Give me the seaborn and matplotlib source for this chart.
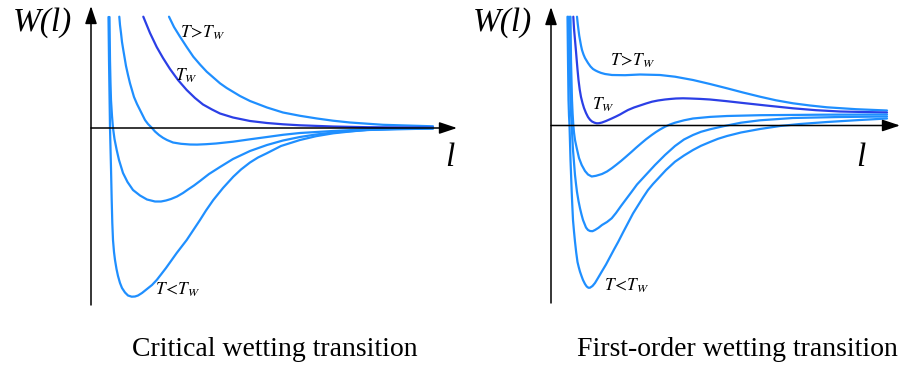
import pandas as pd
import matplotlib
matplotlib.use('Agg')
import matplotlib.pyplot as plt
import seaborn as sns

sns.set_style('white')
plt.rcParams['font.family'] = ['Liberation Serif', 'DejaVu Serif']
plt.rcParams['mathtext.fontset'] = 'stix'
plt.rcParams['text.color'] = 'black'

# values: x = distance from the W axis, y = height above the l axis (pixels)
# critical wetting (left panel)
crit_above_x = [78, 83, 89, 95.7, 102.3, 109, 115.7, 129, 135.7, 149, 159, 176, 192, 209, 226, 242, 259, 292, 342]
crit_above_y = [111.3, 101, 91.3, 81, 71.3, 63.5, 56.3, 44.7, 40, 32, 27, 20.5, 15.5, 12.2, 9.5, 7.3, 5.5, 3.2, 1.7]
crit_tw_x = [52.3, 59, 65.7, 72, 79, 87, 95.7, 104, 112, 121, 129, 142, 159, 176, 192, 209, 242, 276, 342]
crit_tw_y = [111.3, 95, 81, 70, 59, 48, 38, 30, 23.5, 18.5, 14.5, 10.5, 7, 5, 3.7, 2.7, 1.5, 0.8, 0.4]
crit_c_x = [28.3, 29, 30, 31, 32.3, 35, 37, 39, 43, 46, 49, 54, 57, 60.7, 64, 68, 72, 76, 82, 90, 99, 106, 115,
            125, 142, 159, 176, 192, 209, 242, 276, 342]
crit_c_y = [111.3, 103, 95, 86, 78, 62, 53, 44.7, 31, 24, 18, 8, 4, 0.3, -3.5, -7, -9.8, -12, -14.5, -15.8, -16.5,
            -16.6, -16.2, -15.5, -13.7, -11.3, -9, -6.8, -5, -3, -1.3, -0.3]
crit_d_x = [18.5, 19, 19.5, 20, 21, 22, 23.5, 25.7, 28, 32, 36.5, 42, 49, 56, 64, 70, 75, 80, 86, 92, 97, 103, 109,
            118, 129, 142, 159, 176, 192, 209, 225, 242, 276, 342]
crit_d_y = [111, 68, 45, 28, 12, 0, -11, -22, -32, -45, -54, -62, -67.5, -71.5, -73.5, -73.5, -72.5, -71, -68.5, -65,
            -61.5, -57.5, -53, -46, -39, -31, -23, -17, -12.5, -9, -6.5, -4.5, -2, -0.5]
crit_e_x = [17.5, 18, 19, 20, 20.7, 21.3, 22, 23, 24, 25.5, 27, 29, 31, 34, 37, 40.7, 44, 47, 51, 56, 61, 65.7, 70,
            75, 80, 85.7, 95.7, 109, 115, 122.3, 132, 142.3, 150, 159, 167, 175.7, 190, 209, 225, 242.3, 260, 275.7,
            300, 342]
crit_e_y = [111, 68, 0, -40, -72, -95, -112, -124, -132, -141, -148, -155, -160, -164.5, -167.5, -168.7, -168.5,
            -167.5, -165, -161, -157, -152, -146.5, -140, -133, -125, -112, -92, -82.5, -72, -60, -48.7, -41.5,
            -34.5, -29.5, -25.3, -18, -12, -8.2, -5.3, -3.4, -2, -1, -0.3]

# first-order wetting (right panel)
first_above_x = [26, 26.7, 27.5, 28.2, 29, 30, 31, 32.5, 34, 35.5, 37, 39.5, 42, 44.5, 47, 50, 54, 61, 74, 89, 109,
                 124, 142, 159, 176, 192, 209, 225, 242, 259, 276, 305, 336]
first_above_y = [108.8, 102, 95.5, 90, 85.5, 80, 75.5, 71, 67.5, 65, 62.5, 59, 56.5, 55, 53.8, 52.6, 51.5, 50.5,
                 50.3, 51, 50.5, 48.8, 45.5, 41.5, 37.2, 33, 28.8, 25.2, 22.2, 20, 18.2, 16.3, 15]
first_tw_x = [22.3, 23, 24, 25, 25.7, 26.5, 27.5, 28.7, 30, 31.5, 33, 35, 37, 39, 41, 43.5, 45.7, 48, 51, 55, 60.7,
              65, 69, 73, 77, 83, 89, 95, 101, 107, 114, 120, 125, 132, 139, 149, 159, 175, 192, 215, 242, 265,
              289, 336]
first_tw_y = [108.8, 97, 85.5, 74, 65.5, 56, 45.5, 36, 28.5, 22.5, 17.5, 12.5, 8.5, 5.8, 4, 2.8, 2.2, 2.3, 3, 4.5,
              7, 9, 11, 13.3, 15.5, 18, 20, 22, 23.8, 25, 26, 26.6, 27, 27.2, 27, 26.6, 26, 24.4, 22.5, 20, 17.2,
              15.3, 14, 13]
first_c_x = [19.5, 20, 20.5, 21, 21.6, 22.3, 23, 24, 25.7, 28, 30.7, 34, 37, 40.7, 45, 51, 56, 60.7, 65, 70, 75,
             80.7, 85, 90, 95, 100.7, 105, 109, 114, 119, 124, 133, 142, 159, 176, 209, 270, 336]
first_c_y = [108.8, 65.5, 45, 25.5, 12, 0.5, -7, -14.5, -22.5, -32.5, -39.5, -45.5, -49, -51, -50.3, -48.5, -46,
             -42.8, -39.5, -35.5, -31.2, -26.2, -22.3, -18, -13.8, -9.5, -6.5, -4, -1.2, 1, 2.8, 5.2, 7, 8.6, 9.5,
             10.3, 10.8, 11]
first_d_x = [18, 18.5, 19, 19.5, 20, 20.7, 21.3, 22, 23, 24, 25, 26, 27.5, 29, 30.5, 32, 35, 37, 39, 41.5, 44,
             47.5, 51, 56, 60.7, 65, 70, 75, 80.7, 86, 92, 98, 104, 114, 124, 133, 142, 150, 159, 172, 190, 209,
             242, 289, 336]
first_d_y = [108.8, 65.5, 45, 25.5, 12, 0.5, -12, -24.5, -37, -49.5, -58.5, -66.5, -75.5, -82.8, -89, -94.5,
             -102, -104.5, -105.5, -105.7, -104.5, -102.3, -99.5, -96.5, -92.8, -87.5, -80.5, -73.8, -66.2, -59,
             -52.5, -46, -39.5, -29.5, -20.5, -14, -9.5, -6.3, -3.8, -0.8, 2.8, 5.2, 7.5, 8.5, 9]
first_e_x = [16.5, 17, 17.5, 18, 18.5, 19, 19.5, 20.1, 20.7, 21.3, 22, 23, 24, 25.2, 26.5, 27.7, 29, 30.5, 32, 34,
             35.7, 37.5, 39, 41.5, 44, 47, 50.7, 55, 59, 63, 67.3, 72, 77, 82, 87.3, 92, 97, 102, 107.3, 115, 124,
             133, 142, 150, 159, 167, 176, 190, 209, 229, 249, 276, 309, 336]
first_e_y = [108.8, 65.5, 25.5, 10, 0.5, -17, -34.5, -50, -66.2, -80, -94.5, -106, -116.2, -127, -136.5, -141.5,
             -146.2, -150.5, -154.5, -158.5, -161, -162.3, -162.2, -160.5, -157.5, -152.5, -146.2, -139, -131.5,
             -124, -116.2, -107, -97.5, -88, -79.5, -72, -64.5, -58.5, -52.8, -44.5, -36.2, -30, -24.5, -20.3,
             -16.5, -13.3, -10.5, -7, -3.5, -0.5, 1.5, 3.5, 5.5, 7]

light = '#1f8fff'
dark = '#2b3fe6'


def frame(pairs):
    parts = []
    for name, xs, ys in pairs:
        parts.append(pd.DataFrame({'l': xs, 'W': ys, 'curve': name}))
    return pd.concat(parts, ignore_index=True)


crit = frame([('above', crit_above_x, crit_above_y), ('tw', crit_tw_x, crit_tw_y),
              ('c', crit_c_x, crit_c_y), ('d', crit_d_x, crit_d_y), ('e', crit_e_x, crit_e_y)])
first = frame([('above', first_above_x, first_above_y), ('tw', first_tw_x, first_tw_y),
               ('c', first_c_x, first_c_y), ('d', first_d_x, first_d_y), ('e', first_e_x, first_e_y)])
pal = {'above': light, 'tw': dark, 'c': light, 'd': light, 'e': light}

fig = plt.figure(figsize=(9, 3.65), dpi=100)
ax1 = fig.add_axes([0, 0, 460 / 900, 1])
ax2 = fig.add_axes([460 / 900, 0, 440 / 900, 1])

arrow = dict(arrowstyle='-|>,head_length=0.9,head_width=0.3', mutation_scale=12,
             color='black', lw=1.1, shrinkA=0, shrinkB=0)

panels = [
    (ax1, crit, (-91, 369), (-237, 128), -177, 122, 366, 'Critical wetting transition',
     (112, 95), (95, 52), (87, -162), (359, -30), 184, -222),
    (ax2, first, (-91, 349), (-239.5, 125.5), -177.5, 118.5, 349, 'First-order wetting transition',
     (82, 64.5), (52, 20.5), (76, -160.5), (310, -32.5), 186, -224.5),
]

for ax, df, xl, yl, ybot, ytop, xtip, caption, p_above, p_tw, p_below, p_l, cx, cy in panels:
    sns.lineplot(data=df, x='l', y='W', hue='curve', palette=pal, sort=False,
                 estimator=None, legend=False, lw=1.6, ax=ax)
    ax.set_xlim(*xl)
    ax.set_ylim(*yl)
    ax.set_axis_off()
    ax.annotate('', xy=(0, ytop), xytext=(0, ybot), arrowprops=arrow, annotation_clip=False)
    ax.annotate('', xy=(xtip, 0), xytext=(0, 0), arrowprops=arrow, annotation_clip=False)
    ax.text(-49, yl[1] - 23, 'W(l)', fontsize=24, style='italic', ha='center', va='center')
    ax.text(p_l[0], p_l[1], 'l', fontsize=24, style='italic', ha='center', va='center')
    ax.text(p_above[0], p_above[1], r'$T\!>\!T_W$', fontsize=12.5, ha='center', va='center')
    ax.text(p_tw[0], p_tw[1], r'$T_W$', fontsize=12.5, ha='center', va='center')
    ax.text(p_below[0], p_below[1], r'$T\!<\!T_W$', fontsize=12.5, ha='center', va='center')
    ax.text(cx, cy, caption, fontsize=20, ha='center', va='center')

fig.savefig('out.png', dpi=100)
